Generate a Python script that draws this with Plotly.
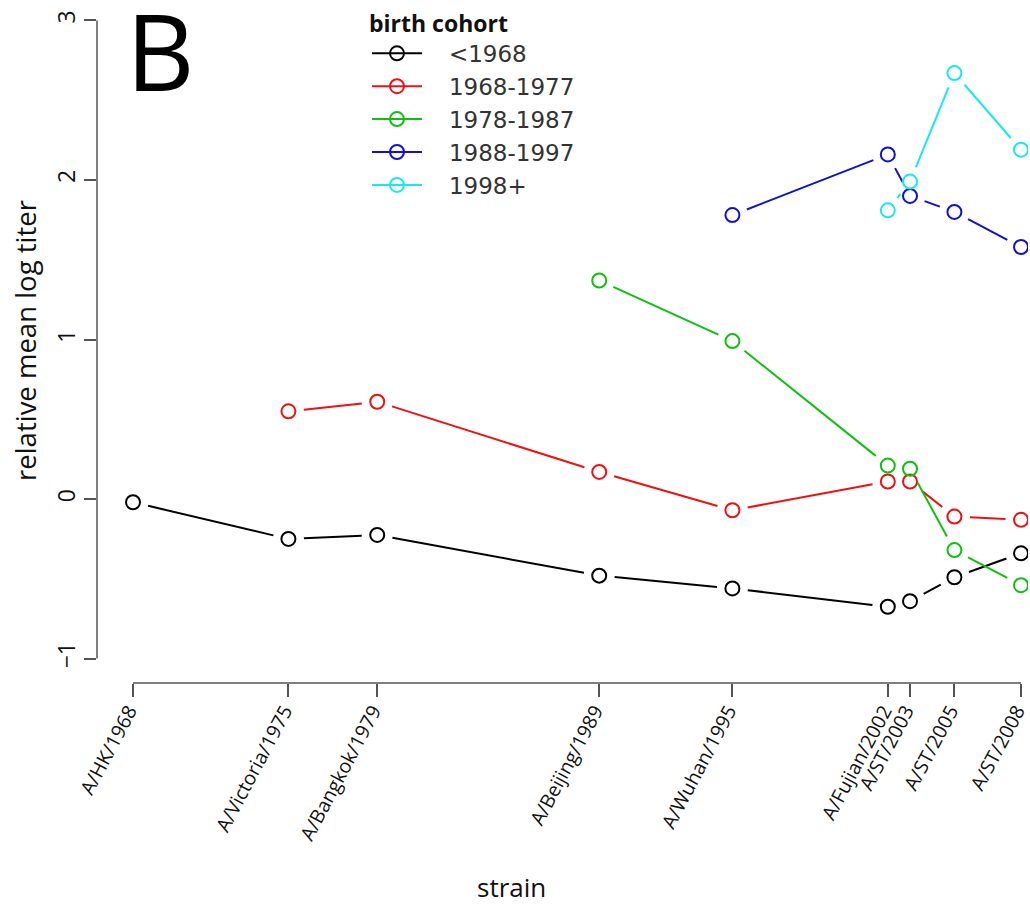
import plotly.graph_objects as go

# ---- data ----
years = [1968, 1975, 1979, 1989, 1995, 2002, 2003, 2005, 2008]
strains = ["A/HK/1968", "A/Victoria/1975", "A/Bangkok/1979", "A/Beijing/1989",
           "A/Wuhan/1995", "A/Fujian/2002", "A/ST/2003", "A/ST/2005", "A/ST/2008"]
cohorts = ["<1968", "1968-1977", "1978-1987", "1988-1997", "1998+"]
titer_lt1968 = [-0.02, -0.25, -0.225, -0.48, -0.56, -0.675, -0.64, -0.49, -0.34]
titer_1968_1977 = [None, 0.55, 0.61, 0.17, -0.07, 0.11, 0.11, -0.11, -0.13]
titer_1978_1987 = [None, None, None, 1.37, 0.99, 0.21, 0.19, -0.32, -0.54]
titer_1988_1997 = [None, None, None, None, 1.78, 2.16, 1.90, 1.80, 1.58]
titer_1998p = [None, None, None, None, None, 1.81, 1.99, 2.67, 2.19]
series = [titer_lt1968, titer_1968_1977, titer_1978_1987, titer_1988_1997, titer_1998p]
colors = ["#000000", "#f01010", "#10c010", "#1010d8", "#18e8f0"]

# ---- layout geometry ----
W, H = 1030, 906
ML, MR, MT, MB = 97, 2, 10, 223
XR = [1966.378, 2008.315]
YR = [-1.153, 3.053]
pw = W - ML - MR
ph = H - MT - MB
sx = pw / (XR[1] - XR[0])   # px per year
sy = ph / (YR[1] - YR[0])   # px per unit
GAP = 15.5                   # R type="b" gap around points (px)

def gapped(xs, ys):
    pts = [(x, y) for x, y in zip(xs, ys) if y is not None]
    gx, gy = [], []
    for (x0, y0), (x1, y1) in zip(pts[:-1], pts[1:]):
        dxp = (x1 - x0) * sx
        dyp = (y1 - y0) * sy
        L = (dxp ** 2 + dyp ** 2) ** 0.5
        if L <= 2 * GAP:
            continue
        f = GAP / L
        gx += [x0 + (x1 - x0) * f, x1 - (x1 - x0) * f, None]
        gy += [y0 + (y1 - y0) * f, y1 - (y1 - y0) * f, None]
    return gx, gy

NB = "\u00a0"
fig = go.Figure()
for name, vals, col in zip(cohorts, series, colors):
    gx, gy = gapped(years, vals)
    fig.add_trace(go.Scatter(x=gx, y=gy, mode="lines", line=dict(color=col, width=2),
                             showlegend=False, hoverinfo="skip"))
    fig.add_trace(go.Scatter(x=years, y=vals, mode="markers",
                             marker=dict(symbol="circle-open", size=14, color=col,
                                         line=dict(width=2, color=col)),
                             showlegend=False, name=name))
    # legend entry
    fig.add_trace(go.Scatter(x=[None], y=[None], mode="lines+markers",
                             name=NB * 3 + name,
                             line=dict(color=col, width=2),
                             marker=dict(symbol="circle-open", size=14, color=col,
                                         line=dict(width=2, color=col)),
                             legendgroup=name))

axcol = "#555555"
fig.update_layout(
    width=W, height=H,
    margin=dict(l=ML, r=MR, t=MT, b=MB, pad=0),
    paper_bgcolor="white", plot_bgcolor="white",
    font=dict(family="Open Sans", color="#111111"),
    xaxis=dict(range=XR, tickvals=years, ticktext=strains, tickangle=-62,
               showgrid=False, zeroline=False, showline=False, automargin=False,
               ticks="outside", ticklen=13, tickwidth=1.5, tickcolor=axcol,
               ticklabeloverflow="allow", ticklabelstandoff=-5, ticklabelshift=-4,
               tickfont=dict(size=19.5, family="Open Sans", color="#111111")),
    yaxis=dict(range=YR, tickvals=[-1, 0, 1, 2, 3], tickangle=-90,
               showgrid=False, zeroline=False, showline=False, automargin=False,
               ticks="outside", ticklen=12, tickwidth=1.5, tickcolor=axcol,
               tickfont=dict(size=23, family="Open Sans", color="#111111")),
    legend=dict(x=0.29, y=1.015, xanchor="left", yanchor="top",
                bgcolor="rgba(0,0,0,0)", itemwidth=50, tracegroupgap=0,
                title=dict(text="<b>birth cohort</b>",
                           font=dict(family="Open Sans", size=23, color="#111111")),
                font=dict(family="DejaVu Sans", size=23, color="#333333")),
    shapes=[
        dict(type="line", xref="paper", yref="y", x0=0, x1=0, y0=-1, y1=3,
             line=dict(color=axcol, width=1.5)),
        dict(type="line", xref="x", yref="paper", x0=1968, x1=2008, y0=0, y1=0,
             line=dict(color=axcol, width=1.5)),
    ],
    annotations=[
        dict(text="B", xref="paper", yref="paper", x=(124 - ML) / pw, y=(H - MB - 48) / ph,
             xanchor="left", yanchor="middle", showarrow=False,
             font=dict(family="Open Sans", size=106, color="black")),
        dict(text="relative mean log titer", xref="paper", yref="paper",
             x=(25 - ML) / pw, y=(H - MB - 340) / ph, textangle=-90,
             xanchor="center", yanchor="middle", showarrow=False,
             font=dict(family="Open Sans", size=27.5, color="#111111")),
        dict(text="strain", xref="paper", yref="paper",
             x=(511 - ML) / pw, y=(H - MB - 888) / ph,
             xanchor="center", yanchor="middle", showarrow=False,
             font=dict(family="Open Sans", size=26, color="#111111")),
    ],
)

fig.write_html("out.html", config={"displayModeBar": False},
               post_script="document.body.style.margin='0';document.body.style.overflow='hidden';")
